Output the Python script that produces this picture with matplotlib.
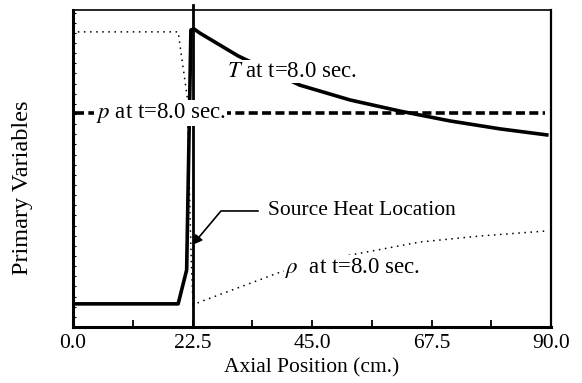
import numpy as np
import matplotlib.pyplot as plt
from matplotlib.ticker import MultipleLocator

plt.rcParams['font.family'] = ['Liberation Serif', 'DejaVu Serif']
plt.rcParams['mathtext.fontset'] = 'stix'

# temperature (thick solid)
x_T = [0.0, 19.8, 21.4, 22.2, 22.8, 23.9, 31.1, 42.7, 52.2, 61.6, 71.0, 80.4, 89.2]
T = [0.073, 0.073, 0.18, 0.937, 0.94, 0.927, 0.855, 0.763, 0.716, 0.681, 0.650, 0.625, 0.606]

# pressure (thick dashed)
x_p = [0.4, 22.0, 22.6, 88.9]
p = [0.675, 0.675, 0.675, 0.675]

# density (dotted)
x_rho = [0.9, 19.8, 21.5, 22.2, 22.6, 23.9, 39.0, 52.2, 65.3, 76.6, 89.2]
rho = [0.931, 0.931, 0.726, 0.243, 0.07, 0.079, 0.173, 0.227, 0.268, 0.287, 0.303]

source_x = 22.5
xticks = [0.0, 22.5, 45.0, 67.5, 90.0]

fs = 15.5
fs_lab = 16.5
fig = plt.figure(figsize=(5.82, 3.83), dpi=100)
ax = fig.add_axes([73/582, 56/383, 478/582, 317/383])

ax.plot(x_rho, rho, color='black', linestyle=(0, (1, 3)), linewidth=1.1)
ax.plot(x_p, p, color='black', linestyle=(0, (2.5, 1.2)), linewidth=2.6)
ax.plot(x_T, T, color='black', linewidth=2.6)
ax.plot([source_x, source_x], [0, 1.015], color='black', linewidth=2.0, clip_on=False)

ax.set_xlim(0, 90)
ax.set_ylim(0, 1)
ax.set_xticks(xticks)
ax.set_xticklabels([f'{v:.1f}' for v in xticks])
ax.xaxis.set_minor_locator(MultipleLocator(11.25))
ax.tick_params(axis='x', which='both', direction='in', length=5, width=1.3, labelsize=fs, pad=5)
ax.set_yticks([])
ax.yaxis.set_minor_locator(MultipleLocator(0.032))
ax.tick_params(axis='y', which='minor', direction='in', length=2, width=0.8)

for side, w in [('left', 2.2), ('bottom', 2.2), ('right', 1.6), ('top', 1.2)]:
    ax.spines[side].set_linewidth(w)

ax.set_xlabel('Axial Position (cm.)', fontsize=fs, labelpad=4)
ax.set_ylabel('Primary Variables', fontsize=17.5)
ax.yaxis.set_label_coords(-0.084, 0.44)

box = dict(facecolor='white', edgecolor='none', pad=1)
ax.text(29.0, 0.806, r'$T$ at t=8.0 sec.', fontsize=fs_lab, va='center', ha='left', bbox=box)
ax.text(4.3, 0.675, r'$p$ at t=8.0 sec.', fontsize=fs_lab, va='center', ha='left', bbox=box)
ax.text(40.0, 0.186, r'$\rho$  at t=8.0 sec.', fontsize=fs_lab, va='center', ha='left', bbox=box)

ax.annotate('Source Heat Location', xy=(source_x, 0.259), xytext=(36.7, 0.366),
            fontsize=fs, va='center', ha='left',
            arrowprops=dict(arrowstyle='-|>', color='black', lw=1.2,
                            connectionstyle='angle,angleA=0,angleB=50,rad=0',
                            shrinkA=5, shrinkB=0, mutation_scale=14))

fig.savefig('out.png', dpi=100)
plt.close(fig)
